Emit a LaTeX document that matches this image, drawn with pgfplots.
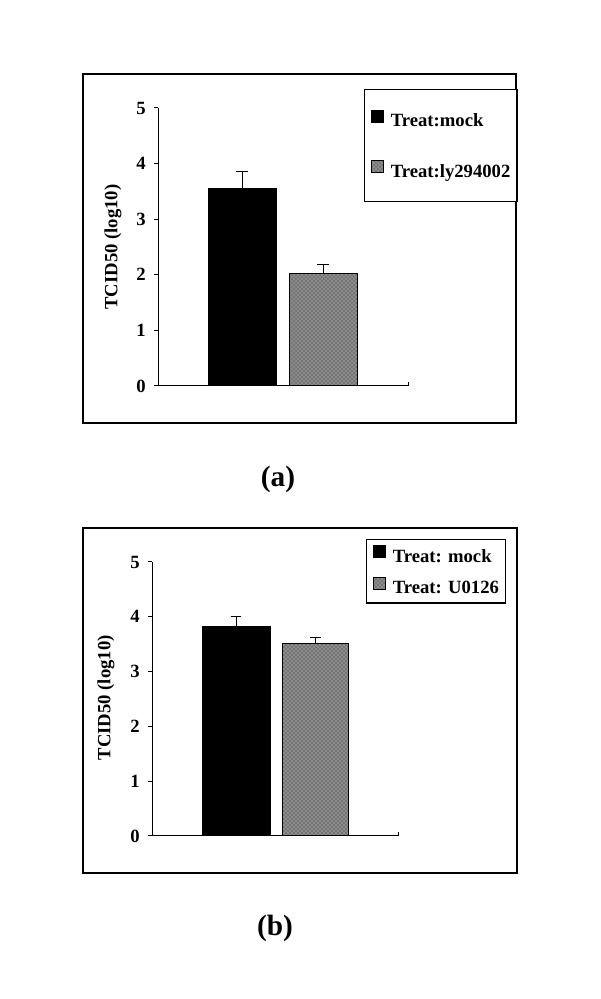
\documentclass[border=0pt]{standalone}
\usepackage{fontspec}
\setmainfont{Liberation Serif}
\usepackage{pgfplots}
\pgfplotsset{compat=1.18}
\usetikzlibrary{patterns}
\pgfplotsset{
  panel/.style={
    scale only axis, clip=false,
    ymin=0, ymax=5, xmin=0,
    axis x line*=bottom, axis y line*=left,
    axis line style={-, line width=0.75pt, black},
    xtick=\empty, ytick={0,1,2,3,4,5},
    tick align=outside, major tick length=3pt,
    tick style={black, line width=0.75pt},
    /pgf/number format/assume math mode=true,
    tick label style={font=\fontsize{14}{16}\selectfont\bfseries},
    yticklabel style={inner sep=0pt, xshift=-6pt},
    ylabel={TCID50 (log10)},
    label style={font=\fontsize{14}{16}\selectfont\bfseries},
    legend cell align=left,
    legend image code/.code={\draw[##1, line width=0.6pt] (0pt,0pt) rectangle (9pt,9pt);},
  },
  blackbar/.style={ybar, bar shift=0pt, fill=black, draw=black, line width=0.75pt,
    error bars/.cd, y dir=plus, y explicit,
    error bar style={line width=0.75pt, black},
    error mark options={rotate=90, mark size=#1, line width=0.75pt, black}},
  graybar/.style={ybar, bar shift=0pt, fill=black!45, draw=black, line width=0.75pt,
    postaction={pattern=crosshatch dots, pattern color=black!85},
    error bars/.cd, y dir=plus, y explicit,
    error bar style={line width=0.75pt, black},
    error mark options={rotate=90, mark size=#1, line width=0.75pt, black}},
}
\begin{document}
\begin{tikzpicture}[x=0.75pt,y=0.75pt]
\fill[white] (0,0) rectangle (600,999);
% frames
\draw[line width=1.1pt] (83,576) rectangle (516,925);
\draw[line width=1.1pt] (83,126) rectangle (517,471);
% panel (a)
\begin{axis}[panel,
  at={(118.5pt,459.75pt)}, anchor=south west,
  width=187.5pt, height=208.5pt, xmax=250,
  ylabel style={at={(axis description cs:-0.18,0.5)}, anchor=center},
  legend style={at={(0.824,1.068)}, anchor=north west, draw=black, line width=1pt,
    font=\fontsize{14}{16}\selectfont\bfseries,
    row sep=22.25pt, column sep=5pt, inner xsep=5pt, inner ysep=15pt,
    nodes={inner sep=0pt, text height=10pt, text depth=3pt}},
]
\addplot[bar width=51pt, blackbar=4.5pt] coordinates {(84,3.56) +- (0,0.29)};
\addlegendentry{Treat:mock}
\addplot[bar width=51pt, graybar=4.5pt] coordinates {(165,2.03) +- (0,0.16)};
\addlegendentry{Treat:ly294002}
\addplot[black, line width=0.75pt, forget plot] coordinates {(250,0) (250,0.07)};
\end{axis}
\node[font=\fontsize{22}{26}\selectfont\bfseries] at (278,520) {(a)};
% panel (b)
\begin{axis}[panel,
  at={(114pt,122.25pt)}, anchor=south west,
  width=184.5pt, height=205.5pt, xmax=246,
  ylabel style={at={(axis description cs:-0.187,0.504)}, anchor=center},
  legend style={at={(0.870,1.084)}, anchor=north west, draw=black, line width=1pt,
    font=\fontsize{14}{16}\selectfont\bfseries,
    row sep=8pt, column sep=5pt, inner xsep=5pt, inner ysep=4pt,
    nodes={inner sep=0pt, text height=10pt, text depth=3pt}},
]
\addplot[bar width=51pt, blackbar=4pt] coordinates {(84,3.83) +- (0,0.17)};
\addlegendentry{Treat: mock}
\addplot[bar width=50pt, graybar=4pt] coordinates {(163.5,3.52) +- (0,0.11)};
\addlegendentry{Treat: U0126}
\addplot[black, line width=0.75pt, forget plot] coordinates {(246,0) (246,0.07)};
\end{axis}
\node[font=\fontsize{22}{26}\selectfont\bfseries] at (275,71) {(b)};
\end{tikzpicture}
\end{document}
